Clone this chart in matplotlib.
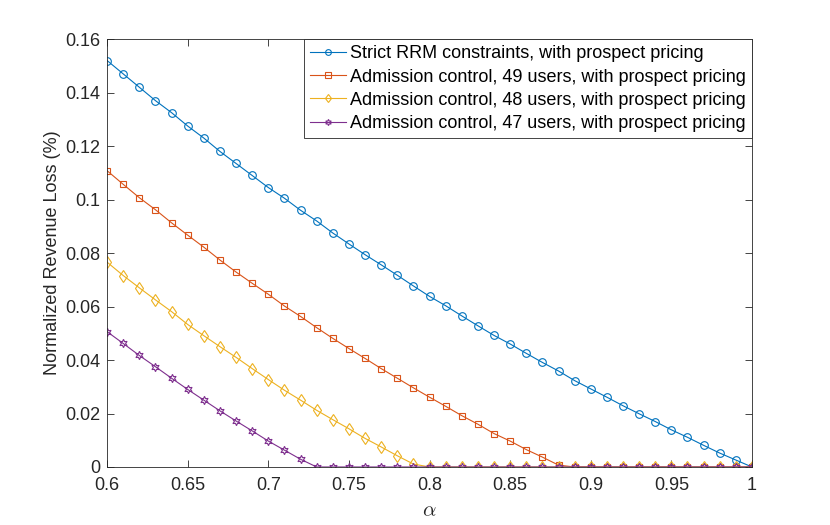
import numpy as np
import matplotlib
matplotlib.use("Agg")
import matplotlib.pyplot as plt
from matplotlib.ticker import FormatStrFormatter

plt.rcParams['font.family'] = ['Liberation Sans', 'DejaVu Sans']
plt.rcParams['mathtext.fontset'] = 'cm'

# ===== data =====
alpha = np.round(np.arange(0.60, 1.0001, 0.01), 2)

strict_rrm = [0.152, 0.147, 0.142, 0.137, 0.1325, 0.1275, 0.123, 0.118, 0.1135, 0.109,
              0.1045, 0.1005, 0.096, 0.092, 0.0875, 0.0834, 0.0794, 0.0756, 0.0717, 0.0677,
              0.0638, 0.0603, 0.0565, 0.0528, 0.0492, 0.046, 0.0425, 0.0391, 0.0359, 0.0323,
              0.0292, 0.0261, 0.0229, 0.0199, 0.017, 0.0139, 0.0111, 0.0081, 0.0052, 0.0026, 0.0]
adm_49 = [0.1108, 0.1057, 0.1007, 0.0962, 0.0913, 0.0867, 0.0822, 0.0774, 0.0729, 0.0687,
          0.0646, 0.0602, 0.0563, 0.0521, 0.0481, 0.0443, 0.0406, 0.0368, 0.0332, 0.0296,
          0.0261, 0.0227, 0.0192, 0.016, 0.0125, 0.0097, 0.0065, 0.0037, 0.0007, 0.0,
          0.0, 0.0, 0.0, 0.0, 0.0, 0.0, 0.0, 0.0, 0.0, 0.0, 0.0]
adm_48 = [0.0766, 0.0716, 0.067, 0.0625, 0.0581, 0.0533, 0.0491, 0.045, 0.041, 0.0368,
          0.0327, 0.0287, 0.025, 0.0212, 0.0177, 0.0143, 0.0107, 0.0075, 0.0042, 0.0011,
          0.0, 0.0, 0.0, 0.0, 0.0, 0.0, 0.0, 0.0, 0.0, 0.0,
          0.0, 0.0, 0.0, 0.0, 0.0, 0.0, 0.0, 0.0, 0.0, 0.0, 0.0]
adm_47 = [0.0506, 0.0462, 0.0417, 0.0375, 0.0332, 0.029, 0.025, 0.021, 0.0172, 0.0135,
          0.0097, 0.0063, 0.0029, 0.0, 0.0, 0.0, 0.0, 0.0, 0.0, 0.0,
          0.0, 0.0, 0.0, 0.0, 0.0, 0.0, 0.0, 0.0, 0.0, 0.0,
          0.0, 0.0, 0.0, 0.0, 0.0, 0.0, 0.0, 0.0, 0.0, 0.0, 0.0]

labels = ["Strict RRM constraints, with prospect pricing",
          "Admission control, 49 users, with prospect pricing",
          "Admission control, 48 users, with prospect pricing",
          "Admission control, 47 users, with prospect pricing"]

# MATLAB default colours and markers
colors = ["#0072BD", "#D95319", "#EDB120", "#7E2F8E"]
markers = ["o", "s", "d", (6, 1, 0)]
sizes = [5.5, 5.0, 6.0, 6.0]

fig = plt.figure(figsize=(8.3, 5.25), dpi=100)
ax = fig.add_axes([0.129, 0.1105, 0.777, 0.815])

for ys, lab, c, m, ms in zip([strict_rrm, adm_49, adm_48, adm_47], labels, colors, markers, sizes):
    ax.plot(alpha, ys, color=c, marker=m, markersize=ms, markerfacecolor="none",
            markeredgecolor=c, markeredgewidth=0.8, linewidth=0.8, label=lab)

ax.set_xlim(0.6, 1.0)
ax.set_ylim(0, 0.16)
ax.set_xticks(np.arange(0.6, 1.0001, 0.05))
ax.set_yticks(np.arange(0, 0.1601, 0.02))
ax.xaxis.set_major_formatter(FormatStrFormatter('%g'))
ax.yaxis.set_major_formatter(FormatStrFormatter('%g'))

ax.tick_params(direction="in", length=5, width=0.6, color="#262626", labelcolor="#262626",
               labelsize=13, top=True, right=True)
ax.tick_params(axis="x", pad=7)
ax.tick_params(axis="y", pad=5)
for sp in ax.spines.values():
    sp.set_color("#262626")
    sp.set_linewidth(0.6)

ax.set_xlabel(r"$\alpha$", fontsize=15, color="#262626", va="center")
ax.xaxis.set_label_coords(0.5, -0.103)
ax.set_ylabel("Normalized Revenue Loss (%)", fontsize=13, color="#262626", va="center")
ax.yaxis.set_label_coords(-0.085, 0.5)

leg = ax.legend(loc="upper right", fontsize=13, borderaxespad=0, fancybox=False,
                framealpha=1, edgecolor="#262626", handlelength=2.0, handletextpad=0.2,
                borderpad=0.35, labelspacing=0.34, markerscale=0.75)
leg.get_frame().set_linewidth(0.6)

fig.savefig("out.png", dpi=100)
